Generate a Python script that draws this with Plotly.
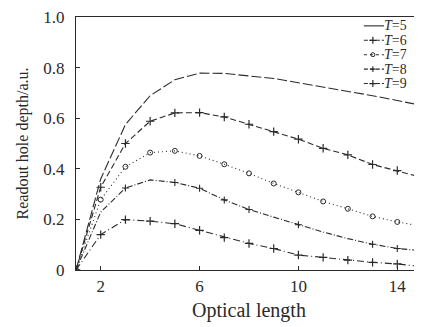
import plotly.graph_objects as go

x_vals = list(range(1, 16))
t5 = [0, 0.36, 0.575, 0.689, 0.752, 0.778, 0.777, 0.768, 0.757, 0.740, 0.724, 0.707, 0.689, 0.670, 0.650]
t6 = [0, 0.327, 0.500, 0.588, 0.621, 0.622, 0.605, 0.576, 0.547, 0.517, 0.481, 0.455, 0.417, 0.393, 0.366]
t7 = [0, 0.278, 0.408, 0.464, 0.471, 0.451, 0.418, 0.382, 0.342, 0.307, 0.271, 0.242, 0.212, 0.190, 0.173]
t8 = [0, 0.229, 0.324, 0.356, 0.346, 0.323, 0.277, 0.239, 0.209, 0.179, 0.150, 0.124, 0.102, 0.085, 0.076]
t9 = [0, 0.140, 0.199, 0.193, 0.183, 0.157, 0.128, 0.105, 0.085, 0.059, 0.050, 0.039, 0.030, 0.024, 0.013]
t8_marked_x = [3, 5, 6, 7, 8, 10, 13, 14]
series_names = ["<i>T</i>=5", "<i>T</i>=6", "<i>T</i>=7", "<i>T</i>=8", "<i>T</i>=9"]
x_ticks = [2, 6, 10, 14]
y_ticks = [0, 0.2, 0.4, 0.6, 0.8, 1.0]
y_tick_labels = ["0", "0.2", "0.4", "0.6", "0.8", "1.0"]

C = "#2a2a2a"
FONT = "Liberation Serif, Times New Roman, serif"

styles = [
    dict(dash="10px,3px", marker=None),
    dict(dash="6px,3px", marker=dict(symbol="cross-thin", size=6, line=dict(color=C, width=1.2))),
    dict(dash="1px,3px", marker=dict(symbol="circle-open", size=5, color=C, line=dict(color=C, width=1))),
    dict(dash="6px,2px,1px,2px", marker=dict(symbol="cross-thin", size=5, line=dict(color=C, width=1.1))),
    dict(dash="7px,3px,1px,3px", marker=dict(symbol="cross-thin", size=6, line=dict(color=C, width=1.2))),
]
series = [t5, t6, t7, t8, t9]

fig = go.Figure()
for i, (ys, st) in enumerate(zip(series, styles)):
    if i == 3:
        fig.add_trace(go.Scatter(x=x_vals, y=ys, mode="lines", showlegend=False,
                                 line=dict(color=C, width=1.1, dash=st["dash"])))
        my = [ys[x_vals.index(v)] for v in t8_marked_x]
        fig.add_trace(go.Scatter(x=t8_marked_x, y=my, mode="markers", showlegend=False, marker=st["marker"]))
    elif st["marker"] is None:
        fig.add_trace(go.Scatter(x=x_vals, y=ys, mode="lines", showlegend=False,
                                 line=dict(color=C, width=1.1, dash=st["dash"])))
    else:
        fig.add_trace(go.Scatter(x=x_vals, y=ys, mode="lines+markers", showlegend=False,
                                 line=dict(color=C, width=1.1, dash=st["dash"]), marker=st["marker"]))

# hand-built legend on an overlay axis (0..1 over the plot area)
leg_rows = [0.965, 0.908, 0.851, 0.794, 0.737]
lx0, lx1, lmid, ltext = 0.832, 0.890, 0.858, 0.888
legend_marker_size = [0, 5, 4, 4, 5]
annotations = []
for i, (name, st, ry) in enumerate(zip(series_names, styles, leg_rows)):
    dash = "solid" if i == 0 else ("4px,2px" if i != 2 else "3px,3px")
    fig.add_trace(go.Scatter(x=[lx0, lx1], y=[ry, ry], xaxis="x2", yaxis="y2", mode="lines",
                             showlegend=False, hoverinfo="skip",
                             line=dict(color=C, width=1.1, dash=dash)))
    if st["marker"] is not None:
        mk = dict(st["marker"])
        mk["size"] = legend_marker_size[i]
        fig.add_trace(go.Scatter(x=[lmid], y=[ry], xaxis="x2", yaxis="y2", mode="markers",
                                 showlegend=False, hoverinfo="skip", marker=mk))
    annotations.append(dict(x=ltext, y=ry, xref="x2", yref="y2", text=name, showarrow=False,
                            xanchor="left", yanchor="middle", height=13, borderpad=0,
                            font=dict(size=14, family=FONT, color=C)))

fig.update_layout(
    width=414, height=319,
    margin=dict(l=68, r=0, t=7, b=57),
    paper_bgcolor="white", plot_bgcolor="white",
    font=dict(family=FONT, color=C, size=16),
    showlegend=False,
    annotations=annotations,
    xaxis=dict(range=[1, 15], tickvals=x_ticks, ticks="inside", ticklen=4, tickcolor=C,
               showline=True, linecolor=C, linewidth=1.2, mirror=True, showgrid=False, zeroline=False,
               tickfont=dict(size=17, family=FONT, color=C), ticklabelstandoff=0,
               title=dict(text="Optical length", font=dict(size=20, family=FONT, color=C), standoff=8)),
    yaxis=dict(range=[0, 1.0], tickvals=y_ticks, ticktext=y_tick_labels, ticks="inside", ticklen=4, tickcolor=C,
               showline=True, linecolor=C, linewidth=1.2, showgrid=False, zeroline=False,
               tickfont=dict(size=17, family=FONT, color=C), ticklabelstandoff=7,
               ticklabeloverflow="allow",
               title=dict(text="Readout hole depth/a.u.", font=dict(size=16, family=FONT, color=C), standoff=10)),
    xaxis2=dict(overlaying="x", range=[0, 1], visible=False, fixedrange=True),
    yaxis2=dict(overlaying="y", range=[0, 1], visible=False, fixedrange=True),
)

fig.write_html("out.html")
